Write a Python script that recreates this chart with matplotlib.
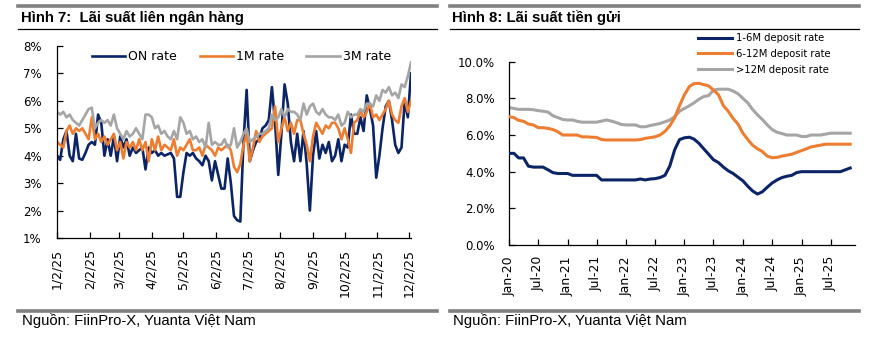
import matplotlib
matplotlib.use("Agg")
import matplotlib.pyplot as plt
import pandas as pd
import numpy as np

# ---------------- Data: Hình 7 (interbank rates, %) ----------------
inter_dates = pd.date_range("2025-01-02", "2025-12-04", freq="3D")
on_rate = [4.0, 3.85, 4.6, 4.9, 4.0, 3.8, 4.8, 3.9, 3.85, 4.1,
           4.4, 4.5, 4.4, 5.5, 5.2, 4.0, 4.6, 4.0, 4.7, 3.8,
           4.7, 4.3, 4.6, 4.0, 4.3, 4.1, 4.2, 4.3, 3.5, 4.3,
           4.1, 4.2, 4.0, 4.1, 4.0, 4.05, 4.1, 3.9, 2.5, 2.5,
           3.4, 4.1, 4.0, 4.1, 3.9, 3.8, 3.65, 4.0, 3.8, 3.1,
           3.8, 3.3, 2.8, 2.8, 3.9, 3.0, 1.8, 1.65, 1.6, 4.5,
           6.4, 3.8, 4.2, 4.5, 4.6, 5.0, 5.1, 5.3, 6.5, 5.2,
           3.3, 4.8, 6.6, 5.9, 4.5, 3.8, 4.8, 3.8, 4.9, 3.7,
           2.0, 4.0, 4.9, 3.9, 4.4, 4.1, 4.5, 3.8, 4.0, 4.6,
           3.8, 4.4, 4.3, 5.5, 4.8, 4.8, 5.4, 4.9, 6.2, 5.7,
           5.1, 3.2, 4.0, 5.0, 5.8, 6.0, 5.3, 4.4, 4.1, 4.3,
           6.0, 5.4, 7.0]
m1_rate = [4.5, 4.4, 4.3, 4.9, 5.1, 4.8, 5.0, 4.9, 5.0, 4.8,
           4.6, 5.4, 4.6, 4.8, 4.5, 4.7, 4.4, 4.6, 4.8, 4.2,
           4.5, 3.9, 4.5, 4.3, 4.5, 4.2, 4.6, 4.2, 4.5, 3.8,
           4.6, 4.2, 4.7, 4.2, 4.4, 4.3, 4.2, 4.6, 4.0, 4.3,
           4.2, 4.4, 4.6, 4.2, 4.2, 4.3, 4.0, 4.4, 4.3, 4.2,
           4.0, 4.3, 4.2, 4.3, 4.4, 4.2, 3.6, 3.4, 3.7, 4.4,
           4.8, 3.8, 4.3, 4.9, 4.5, 4.7, 4.8, 4.9, 5.0, 5.8,
           4.5, 5.0, 5.4, 4.9, 5.2, 4.8, 5.3, 5.3, 4.8, 4.4,
           3.8, 4.7, 5.2, 5.0, 4.8, 5.1, 5.0, 5.2, 5.2, 5.0,
           4.6, 5.0, 4.6, 4.1, 5.2, 5.3, 5.6, 5.4, 5.6, 5.9,
           5.4, 5.5, 5.3, 5.5, 5.7, 6.0, 5.5, 5.3, 5.2, 5.8,
           6.1, 5.6, 6.0]
m3_rate = [5.6, 5.5, 5.6, 5.4, 5.5, 5.3, 5.2, 5.1, 5.3, 5.5,
           5.7, 5.75, 5.0, 5.2, 5.3, 5.2, 5.3, 5.1, 5.5, 5.0,
           4.8, 4.6, 4.9, 4.7, 4.8, 5.0, 4.8, 4.6, 5.5, 5.5,
           5.4, 5.0, 5.1, 4.8, 4.9, 4.7, 4.6, 4.9, 4.6, 5.4,
           5.2, 4.8, 4.9, 4.6, 4.7, 4.5, 4.6, 4.3, 5.2, 4.4,
           4.5, 4.4, 4.4, 4.6, 4.3, 4.4, 5.0, 4.3, 4.5, 4.8,
           5.0, 4.5, 4.6, 4.7, 4.8, 4.8, 4.9, 5.0, 5.5, 5.3,
           5.4, 5.7, 5.4, 5.7, 5.6, 5.6, 5.5, 5.3, 5.9, 5.5,
           5.8, 5.9, 5.6, 5.5, 5.7, 5.5, 5.4, 5.4, 5.3, 5.5,
           5.1, 5.2, 5.6, 5.4, 5.5, 5.5, 5.7, 5.6, 5.9, 5.9,
           5.8, 6.2, 6.0, 6.4, 6.3, 6.5, 6.2, 6.3, 6.1, 6.6,
           6.5, 6.9, 7.4]
inter_ticks = pd.date_range("2025-01-01", "2025-12-01", freq="MS") + pd.Timedelta(days=1)
inter_tick_labels = ["1/2/25", "2/2/25", "3/2/25", "4/2/25", "5/2/25", "6/2/25",
                     "7/2/25", "8/2/25", "9/2/25", "10/2/25", "11/2/25", "12/2/25"]

# ---------------- Data: Hình 8 (deposit rates, %) ----------------
dep_dates = pd.date_range("2020-01-01", "2025-11-01", freq="MS")
dep_1_6 = [5.0, 5.0, 4.75, 4.75, 4.3, 4.25, 4.25, 4.25, 4.1, 3.95,
           3.9, 3.9, 3.9, 3.8, 3.8, 3.8, 3.8, 3.8, 3.8, 3.55,
           3.55, 3.55, 3.55, 3.55, 3.55, 3.55, 3.55, 3.6, 3.55, 3.6,
           3.62, 3.68, 3.8, 4.3, 5.2, 5.75, 5.85, 5.88, 5.78, 5.55,
           5.25, 4.95, 4.65, 4.5, 4.25, 4.05, 3.9, 3.7, 3.5, 3.2,
           2.95, 2.78, 2.9, 3.15, 3.38, 3.55, 3.68, 3.75, 3.8, 3.95,
           4.0, 4.0, 4.0, 4.0, 4.0, 4.0, 4.0, 4.0, 4.0, 4.1, 4.2]
dep_6_12 = [7.0, 6.95, 6.8, 6.75, 6.6, 6.55, 6.4, 6.4, 6.36, 6.3,
            6.18, 6.0, 6.0, 6.0, 6.0, 5.9, 5.9, 5.88, 5.87, 5.75,
            5.73, 5.73, 5.73, 5.73, 5.73, 5.73, 5.73, 5.75, 5.82, 5.86,
            5.9, 6.0, 6.2, 6.5, 6.95, 7.6, 8.2, 8.65, 8.8, 8.82,
            8.75, 8.68, 8.45, 8.2, 7.6, 7.3, 6.9, 6.6, 6.1, 5.75,
            5.45, 5.25, 5.1, 4.85, 4.76, 4.78, 4.85, 4.9, 4.95, 5.05,
            5.15, 5.25, 5.35, 5.4, 5.45, 5.5, 5.5, 5.5, 5.5, 5.5, 5.5]
dep_12p = [7.5, 7.45, 7.4, 7.4, 7.4, 7.38, 7.33, 7.3, 7.25, 7.05,
           6.95, 6.85, 6.82, 6.82, 6.75, 6.7, 6.7, 6.7, 6.7, 6.76,
           6.82, 6.76, 6.68, 6.58, 6.55, 6.55, 6.55, 6.45, 6.45, 6.52,
           6.57, 6.63, 6.72, 6.82, 7.0, 7.3, 7.45, 7.6, 7.75, 7.95,
           8.1, 8.15, 8.45, 8.5, 8.5, 8.5, 8.4, 8.25, 8.0, 7.75,
           7.4, 7.1, 6.85, 6.55, 6.3, 6.15, 6.08, 6.0, 6.0, 6.0,
           5.92, 5.92, 6.0, 6.0, 6.0, 6.05, 6.1, 6.1, 6.1, 6.1, 6.1]
dep_ticks = pd.date_range("2020-01-01", "2025-07-01", freq="6MS")
dep_tick_labels = ["Jan-20", "Jul-20", "Jan-21", "Jul-21", "Jan-22", "Jul-22",
                   "Jan-23", "Jul-23", "Jan-24", "Jul-24", "Jan-25", "Jul-25"]

NAVY = "#0B2466"
ORANGE = "#ED7D31"
GRAY = "#A5A5A5"

W, H = 875, 352
fig = plt.figure(figsize=(W / 100, H / 100), dpi=100)
fig.patch.set_facecolor("white")


def px_axes(x0, y0, x1, y1):
    return fig.add_axes([x0 / W, 1 - y1 / H, (x1 - x0) / W, (y1 - y0) / H])


def hline(x0, x1, y, color, lw):
    fig.add_artist(plt.Line2D([x0 / W, x1 / W], [1 - y / H, 1 - y / H],
                              color=color, lw=lw, transform=fig.transFigure))


TITLE_FONT = "Liberation Sans"
TICK_FONT = "DejaVu Sans"

# frames / titles
for (x0, x1, tx, title) in [(18, 437, 21, "Hình 7:  Lãi suất liên ngân hàng"),
                            (450, 859, 452, "Hình 8: Lãi suất tiền gửi")]:
    hline(x0, x1, 5.8, "#808080", 2.6)
    hline(x0, x1, 28.8, "black", 0.9)
    hline(x0, x1, 310.5, "#808080", 2.6)
    fig.text(tx / W, 1 - 18 / H, title, fontsize=10.7, fontweight="bold",
             family=TITLE_FONT, va="center", ha="left")
    fig.text((tx + 1) / W, 1 - 321 / H, "Nguồn: FiinPro-X, Yuanta Việt Nam",
             fontsize=10.7, family=TITLE_FONT, va="center", ha="left")


def style_axes(ax):
    for s in ["top", "right"]:
        ax.spines[s].set_visible(False)
    for s in ["left", "bottom"]:
        ax.spines[s].set_linewidth(0.9)
        ax.spines[s].set_color("black")
    ax.tick_params(direction="in", length=4, width=0.9, colors="black")
    ax.set_facecolor("white")


# ---------------- Left chart ----------------
ax1 = px_axes(57, 46, 411, 238)
ax1.plot(inter_dates, on_rate, color=NAVY, lw=1.9, label="ON rate")
ax1.plot(inter_dates, m1_rate, color=ORANGE, lw=1.9, label="1M rate")
ax1.plot(inter_dates, m3_rate, color=GRAY, lw=1.9, label="3M rate")
style_axes(ax1)
ax1.set_ylim(1, 8)
ax1.set_yticks(range(1, 9))
ax1.set_yticklabels([f"{v}%" for v in range(1, 9)], fontsize=8.5, family=TICK_FONT)
ax1.tick_params(axis="y", pad=11)
ax1.set_xlim(pd.Timestamp("2025-01-02"), pd.Timestamp("2025-12-04"))
ax1.set_xticks(inter_ticks)
ax1.set_xticklabels(inter_tick_labels, rotation=90, fontsize=9, family=TICK_FONT)
ax1.tick_params(axis="x", pad=8)
leg1 = ax1.legend(loc="upper left", bbox_to_anchor=((92 - 57) / 354, 1 - 4 / 192), ncol=3,
                  frameon=False, prop={"family": TICK_FONT, "size": 9},
                  handlelength=2.65, handletextpad=0.25, columnspacing=1.8,
                  borderaxespad=0, borderpad=0)

# ---------------- Right chart ----------------
ax2 = px_axes(509, 61.7, 855, 245)
ax2.plot(dep_dates, dep_12p, color=GRAY, lw=2.2, label=">12M deposit rate", zorder=2)
ax2.plot(dep_dates, dep_6_12, color=ORANGE, lw=2.2, label="6-12M deposit rate", zorder=3)
ax2.plot(dep_dates, dep_1_6, color=NAVY, lw=2.2, label="1-6M deposit rate", zorder=4)
style_axes(ax2)
ax2.set_ylim(0, 10)
ax2.set_yticks(np.arange(0, 10.1, 2))
ax2.set_yticklabels([f"{v:.1f}%" for v in np.arange(0, 10.1, 2)], fontsize=8.5, family=TICK_FONT)
ax2.tick_params(axis="y", pad=10)
ax2.set_xlim(pd.Timestamp("2020-01-01"), pd.Timestamp("2025-12-01"))
ax2.set_xticks(dep_ticks)
ax2.set_xticklabels(dep_tick_labels, rotation=90, fontsize=9, family=TICK_FONT)
ax2.tick_params(axis="x", pad=8)
h, l = ax2.get_legend_handles_labels()
leg2 = fig.legend(h[::-1], l[::-1], loc="upper left",
                  bbox_to_anchor=(698 / W, 1 - 33 / H), frameon=False,
                  prop={"family": TICK_FONT, "size": 7.2},
                  handlelength=3.4, handletextpad=0.35, labelspacing=0.58,
                  borderaxespad=0, borderpad=0)

fig.savefig("out.png", dpi=100, facecolor="white")
